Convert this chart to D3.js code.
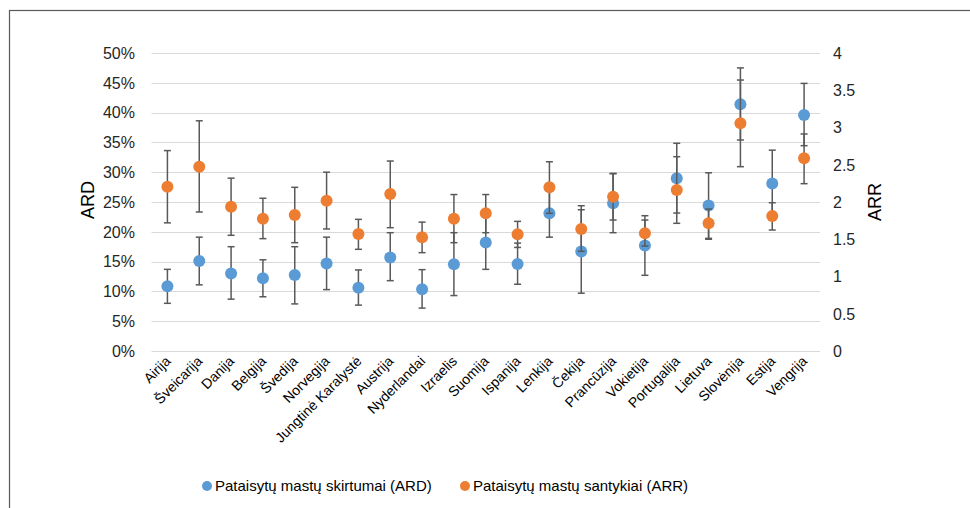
<!DOCTYPE html>
<html>
<head>
<meta charset="utf-8">
<script src="https://cdn.jsdelivr.net/npm/d3@7"></script>
<style>
  html, body { margin: 0; padding: 0; background: #fff; }
  svg { display: block; font-family: "Liberation Sans", Arial, sans-serif; }
</style>
</head>
<body>
<svg id="chart" width="970" height="508"></svg>
<script>
const countries = ["Airija","Šveicarija","Danija","Belgija","Švedija","Norvegija","Jungtinė Karalystė","Austrija","Nyderlandai","Izraelis","Suomija","Ispanija","Lenkija","Čekija","Prancūzija","Vokietija","Portugalija","Lietuva","Slovėnija","Estija","Vengrija"];

// ARD (%), with lower / upper confidence bounds
const ard     = [10.85, 15.1, 13.0, 12.2, 12.75, 14.7, 10.6, 15.7, 10.35, 14.55, 18.2, 14.6, 23.1, 16.7, 24.8, 17.7, 29.0, 24.4, 41.4, 28.1, 39.6];
const ardLow  = [8.0, 11.1, 8.7, 9.1, 7.9, 10.3, 7.7, 11.8, 7.2, 9.3, 13.7, 11.2, 19.1, 9.7, 19.85, 12.7, 23.15, 18.9, 35.4, 22.5, 34.45];
const ardHigh = [13.7, 19.1, 17.5, 15.3, 17.5, 19.1, 13.6, 19.85, 13.65, 19.85, 22.7, 18.1, 27.1, 23.7, 29.8, 22.7, 34.85, 29.9, 47.5, 33.7, 44.9];

// ARR, with lower / upper confidence bounds
const arr     = [2.205, 2.474, 1.937, 1.776, 1.826, 2.017, 1.570, 2.107, 1.526, 1.776, 1.848, 1.566, 2.197, 1.638, 2.071, 1.58, 2.161, 1.714, 3.056, 1.812, 2.586];
const arrLow  = [1.72, 1.866, 1.553, 1.508, 1.454, 1.638, 1.365, 1.655, 1.32, 1.454, 1.588, 1.39, 1.848, 1.338, 1.758, 1.409, 1.714, 1.5, 2.474, 1.624, 2.246];
const arrHigh = [2.69, 3.09, 2.32, 2.05, 2.197, 2.40, 1.767, 2.55, 1.73, 2.10, 2.10, 1.74, 2.54, 1.95, 2.38, 1.758, 2.608, 1.906, 3.637, 1.99, 2.913];

const leftTicks  = [0, 5, 10, 15, 20, 25, 30, 35, 40, 45, 50];
const rightTicks = [0, 0.5, 1, 1.5, 2, 2.5, 3, 3.5, 4];
const seriesNames = ["Pataisytų mastų skirtumai (ARD)", "Pataisytų mastų santykiai (ARR)"];
const colors = ["#5B9BD5", "#ED7D31"];

const svg = d3.select("#chart");

// outer frame
svg.append("rect").attr("x", 9.5).attr("y", 10.5).attr("width", 1000).attr("height", 600)
  .attr("fill", "none").attr("stroke", "#595959").attr("stroke-width", 1.2);

const x = d3.scaleBand().domain(countries).range([151.5, 820]).padding(0);
const yL = d3.scaleLinear().domain([0, 50]).range([351, 53]);
const yR = d3.scaleLinear().domain([0, 4]).range([351, 53]);

// gridlines
svg.append("g").selectAll("line").data(leftTicks).join("line")
  .attr("x1", 151.5).attr("x2", 820)
  .attr("y1", d => Math.round(yL(d)) + 0.5).attr("y2", d => Math.round(yL(d)) + 0.5)
  .attr("stroke", "#d9d9d9").attr("stroke-width", 1);

// left tick labels
svg.append("g").selectAll("text").data(leftTicks).join("text")
  .attr("x", 135).attr("y", d => yL(d)).attr("dy", "0.36em")
  .attr("text-anchor", "end").attr("font-size", 16).attr("fill", "#262626")
  .text(d => d + "%");

// right tick labels
svg.append("g").selectAll("text").data(rightTicks).join("text")
  .attr("x", 833).attr("y", d => yR(d)).attr("dy", "0.36em")
  .attr("text-anchor", "start").attr("font-size", 16).attr("fill", "#262626")
  .text(d => d);

// axis titles
svg.append("text").attr("transform", "translate(94,200) rotate(-90)")
  .attr("text-anchor", "middle").attr("font-size", 18).attr("fill", "#000").text("ARD");
svg.append("text").attr("transform", "translate(881,202) rotate(-90)")
  .attr("text-anchor", "middle").attr("font-size", 18).attr("fill", "#000").text("ARR");

// x labels
svg.append("g").selectAll("text").data(countries).join("text")
  .attr("transform", d => `translate(${x(d) + x.bandwidth() / 2 + 4},${362}) rotate(-45)`)
  .attr("text-anchor", "end").attr("font-size", 14).attr("fill", "#000")
  .text(d => d);

const cx = d => x(d) + x.bandwidth() / 2;
const capW = 3.5;

function drawSeries(vals, lo, hi, y, color) {
  const g = svg.append("g");
  const idx = d3.range(countries.length);
  const eb = g.append("g").attr("stroke", "#595959").attr("stroke-width", 1.5);
  eb.selectAll("line.v").data(idx).join("line").attr("class", "v")
    .attr("x1", i => cx(countries[i])).attr("x2", i => cx(countries[i]))
    .attr("y1", i => y(lo[i])).attr("y2", i => y(hi[i]));
  eb.selectAll("line.t").data(idx).join("line").attr("class", "t")
    .attr("x1", i => cx(countries[i]) - capW).attr("x2", i => cx(countries[i]) + capW)
    .attr("y1", i => y(hi[i])).attr("y2", i => y(hi[i]));
  eb.selectAll("line.b").data(idx).join("line").attr("class", "b")
    .attr("x1", i => cx(countries[i]) - capW).attr("x2", i => cx(countries[i]) + capW)
    .attr("y1", i => y(lo[i])).attr("y2", i => y(lo[i]));
  g.selectAll("circle").data(idx).join("circle")
    .attr("cx", i => cx(countries[i])).attr("cy", i => y(vals[i])).attr("r", 6)
    .attr("fill", color);
}
drawSeries(ard, ardLow, ardHigh, yL, colors[0]);
drawSeries(arr, arrLow, arrHigh, yR, colors[1]);

// legend
const legendX = [207, 465];
const lg = svg.append("g").selectAll("g").data(seriesNames).join("g");
lg.append("circle").attr("cx", (d, i) => legendX[i]).attr("cy", 486).attr("r", 5)
  .attr("fill", (d, i) => colors[i]);
lg.append("text").attr("x", (d, i) => legendX[i] + 8).attr("y", 486).attr("dy", "0.36em")
  .attr("font-size", 15).attr("fill", "#000").text(d => d);
</script>
</body>
</html>
